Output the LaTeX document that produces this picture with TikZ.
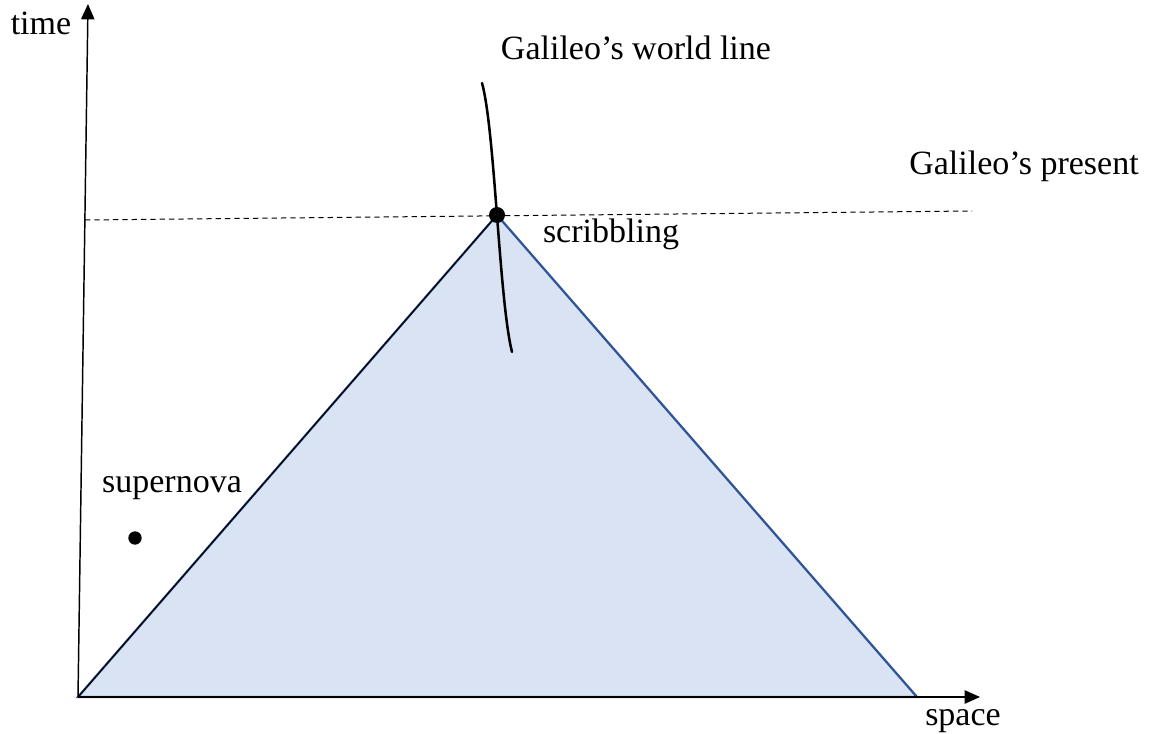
\documentclass[tikz,border=0pt]{standalone}
\usepackage{fontspec}
\setmainfont{Liberation Serif}
\usetikzlibrary{arrows.meta}
\definecolor{conefill}{HTML}{DAE3F3}
\definecolor{coneedge}{HTML}{2F5597}
\begin{document}
\begin{tikzpicture}[x=0.75pt,y=-0.75pt,
  lbl/.style={font=\fontsize{25.5}{30}\selectfont, inner sep=0pt, anchor=base},
  axis/.style={line width=1.1pt, -{Triangle[length=11.5pt,width=10pt]}},
  dotpt/.style={circle, fill=black, inner sep=0pt, minimum size=#1}]
\useasboundingbox (0,0) rectangle (1154,734);
\coordinate (O) at (78,697);
\coordinate (apex) at (497,215);
\coordinate (R) at (917,697);
\coordinate (ttop) at (88,4);
\coordinate (send) at (980,697);
\coordinate (dl) at (85,220);
\coordinate (dr) at (972,211);
\coordinate (wtop) at (482,83);
\coordinate (wbot) at (512,352);
% light cone
\filldraw[fill=conefill, draw=coneedge, line width=1.7pt, line join=miter] (O) -- (apex) -- (R) -- cycle;
\draw[line width=0.9pt] (O) -- (apex);
% present line
\draw[line width=0.75pt, dash pattern=on 4pt off 3pt] (dl) -- (dr);
% axes
\draw[axis] (O) -- (ttop);
\draw[axis] (O) -- (send);
% world line
\draw[line width=1.9pt, line cap=round] (wtop) .. controls (495,130) and (499,300) .. (wbot);
% dots
\node[dotpt=12pt] (ev) at (apex) {};
\node[dotpt=10pt] (sn) at (135,538) {};
% labels
\node[lbl] (ltime) at (41,35) {time};
\node[lbl] (lspace) at (963,725) {space};
\node[lbl] (lwl) at (636,60) {Galileo’s world line};
\node[lbl] (lpres) at (1024,175) {Galileo’s present};
\node[lbl] (lscr) at (611,243) {scribbling};
\node[lbl] (lsn) at (172,493) {supernova};
\end{tikzpicture}
\end{document}
